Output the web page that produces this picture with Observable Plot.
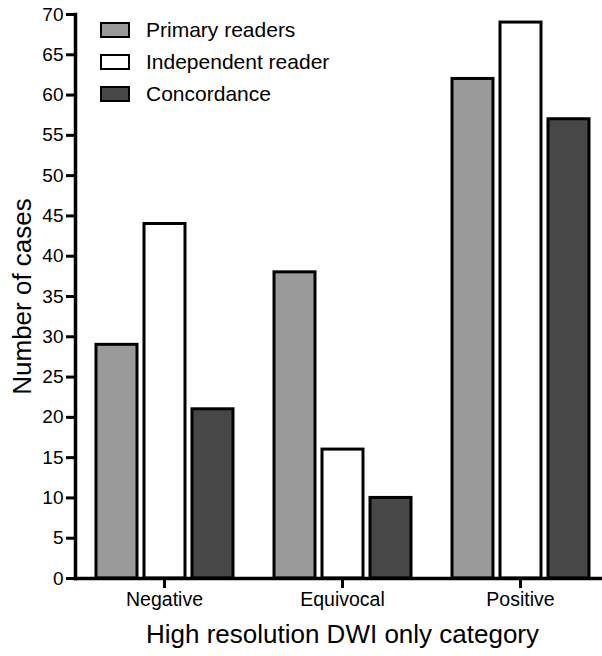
<!DOCTYPE html>
<html>
<head>
<meta charset="utf-8">
<script src="https://cdn.jsdelivr.net/npm/d3@7"></script>
<script src="https://cdn.jsdelivr.net/npm/@observablehq/plot@0.6"></script>
<style>
  html, body { margin: 0; padding: 0; background: #fff; overflow: hidden; }
  #wrap { position: relative; width: 602px; height: 656px; overflow: hidden; font-family: "Liberation Sans", Arial, sans-serif; }
  #wrap svg { font-family: "Liberation Sans", Arial, sans-serif; overflow: hidden; }
  g[aria-label="y-axis label"] text { font-size: 26px; }
  g[aria-label="fx-axis label"] text { font-size: 26px; }
  #legend { position: absolute; left: 100px; top: 14px; }
  .item { display: flex; align-items: center; height: 32px; font-size: 21px; color: #000; }
  .sw { width: 26px; height: 12px; border: 2.5px solid #000; margin-right: 16px; }
</style>
</head>
<body>
<div id="wrap"></div>
<script>
const categories = ["Negative", "Equivocal", "Positive"];
const series = ["Primary readers", "Independent reader", "Concordance"];
const primary = [29, 38, 62];
const independent = [44, 16, 69];
const concordance = [21, 10, 57];
const colors = ["#9a9a9a", "#ffffff", "#474747"];
const yTicks = [0, 5, 10, 15, 20, 25, 30, 35, 40, 45, 50, 55, 60, 65, 70];
const xTitle = "High resolution DWI only category";
const yTitle = "Number of cases";

const valuesBySeries = [primary, independent, concordance];
const data = categories.flatMap((c, i) =>
  series.map((s, j) => ({category: c, series: s, value: valuesBySeries[j][i]}))
);

const chart = Plot.plot({
  width: 602,
  height: 656,
  marginLeft: 75,
  marginRight: -7,
  marginTop: 14,
  marginBottom: 78,
  fx: {domain: categories, paddingInner: 0, paddingOuter: 0, label: null},
  x: {domain: series, axis: null, paddingInner: 0.15, paddingOuter: 0.4, align: 0.52},
  y: {domain: [0, 70], label: null},
  color: {domain: series, range: colors},
  marks: [
    Plot.barY(data, {fx: "category", x: "series", y: "value", fill: "series", stroke: "#000", strokeWidth: 3}),
    Plot.axisY({ticks: yTicks, tickSize: 9, tickPadding: 3, strokeWidth: 3, fontSize: 19, label: yTitle, labelArrow: "none", labelAnchor: "center", labelOffset: 63}),
    Plot.axisFx({anchor: "bottom", tickSize: 10, tickPadding: 4, strokeWidth: 3, fontSize: 19.5, label: xTitle, labelArrow: "none", labelAnchor: "center", labelOffset: 64}),
    Plot.frame({anchor: "bottom", facet: "super", stroke: "#000", strokeWidth: 3.5}),
    Plot.frame({anchor: "left", facet: "super", stroke: "#000", strokeWidth: 3.5})
  ]
});

const wrap = document.getElementById("wrap");
wrap.appendChild(chart);

const legend = document.createElement("div");
legend.id = "legend";
series.forEach((s, i) => {
  const item = document.createElement("div");
  item.className = "item";
  const sw = document.createElement("span");
  sw.className = "sw";
  sw.style.background = colors[i];
  const t = document.createElement("span");
  t.textContent = s;
  item.appendChild(sw);
  item.appendChild(t);
  legend.appendChild(item);
});
wrap.appendChild(legend);
</script>
</body>
</html>
